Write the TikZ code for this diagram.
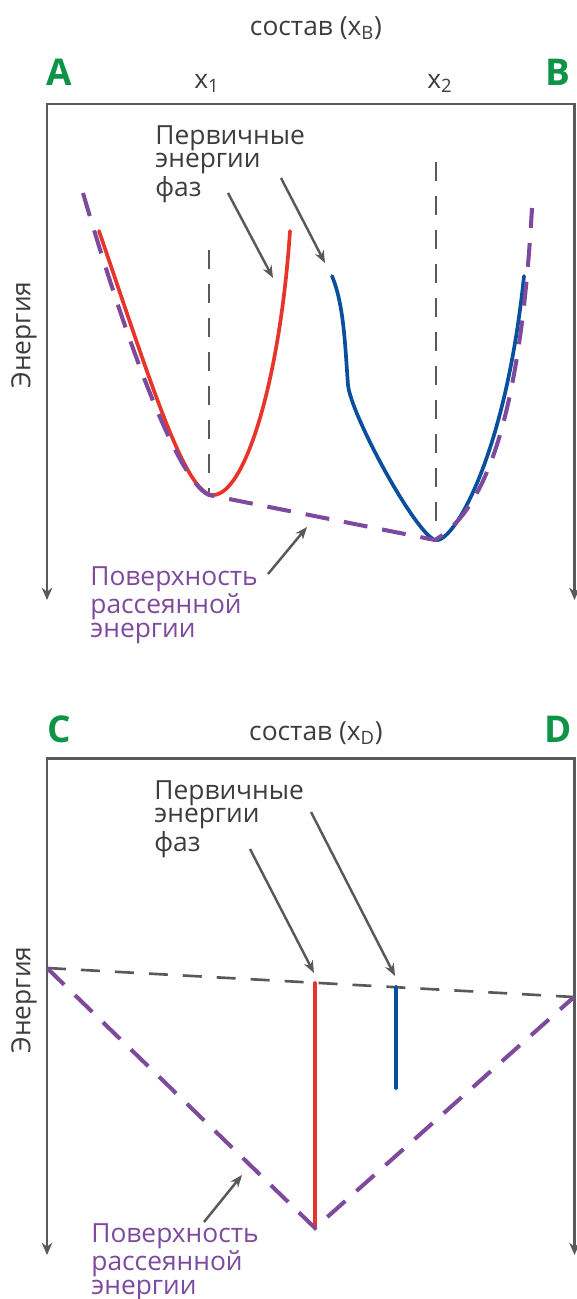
\documentclass[tikz,border=0pt]{standalone}
\usepackage{fontspec}
\setmainfont{Open Sans}
\usetikzlibrary{arrows.meta}
\definecolor{ink}{HTML}{3D3D3D}
\definecolor{rule}{HTML}{595959}
\definecolor{phasered}{HTML}{E8352B}
\definecolor{phaseblue}{HTML}{0A4F9E}
\definecolor{hull}{HTML}{7E4A9E}
\definecolor{corner}{HTML}{0E9447}

\begin{document}
\begin{tikzpicture}[x=0.02cm,y=-0.02cm,
  lbl/.style={font=\fontsize{15}{13.4}\selectfont,text=ink,align=left,inner sep=0pt},
  hulllbl/.style={lbl,text=hull},
  endlbl/.style={font=\fontsize{21}{21}\bfseries\selectfont,text=corner,inner sep=0pt},
  frame/.style={rule,line width=1.7pt,{Stealth[length=7pt,width=6pt]}-{Stealth[length=7pt,width=6pt]}},
  guide/.style={rule,line width=1.5pt,dash pattern=on 0.38cm off 0.3cm},
  hullline/.style={hull,line width=2.3pt,dash pattern=on 0.48cm off 0.3cm},
  phase/.style={line width=2.1pt,line cap=round},
  pointer/.style={rule,line width=1.4pt,-{Stealth[length=7pt,width=5.5pt]}}]
  \useasboundingbox (0,0) rectangle (576,1299);

  % Top panel: frame and labels
  \draw[frame] (47,600) -- (47,104) -- (574.5,104) -- (574.5,600);
  \node[lbl,anchor=base] (compB) at (316,35) {состав (x\textsubscript{B})};
  \node[endlbl,anchor=base] (endA) at (59,85) {A};
  \node[endlbl,anchor=base] (endB) at (558,85) {B};
  \node[lbl,anchor=base] (xone) at (207,88) {x\textsubscript{1}};
  \node[lbl,anchor=base] (xtwo) at (440,88) {x\textsubscript{2}};
  \node[lbl,rotate=90] (energyT) at (24,335) {Энергия};

  % Guides at x1 and x2
  \draw[guide] (209,250) -- (209,492);
  \draw[guide] (436,162) -- (436,522);

  % Phase curves
  \draw[phase,phasered] (99,231) .. controls (150,380) and (185,495) .. (213,495)
    .. controls (245,495) and (280,380) .. (290,231);
  \draw[phase,phaseblue] (332,276) .. controls (344,305) and (345,345) .. (348,385)
    .. controls (351,415) and (415,533) .. (435,540)
    .. controls (452,545) and (505,460) .. (524,276);

  % Dissipated energy surface
  \draw[hullline] (83,193) .. controls (120,320) and (175,480) .. (209,495) -- (435,540)
    .. controls (485,510) and (520,420) .. (532,208);

  % Callouts
  \node[lbl,anchor=base west] (primT) at (155,196) {Первичные\\энергии\\фаз};
  \node[hulllbl,anchor=base west] (surfT) at (90,637) {Поверхность\\рассеянной\\энергии};
  \coordinate (pA) at (228,193);
  \coordinate (redtip) at (273,278);
  \coordinate (pB) at (281,178);
  \coordinate (bluetip) at (325,263);
  \coordinate (sA) at (268,574);
  \coordinate (hulltip) at (307,527);
  \draw[pointer] (pA) -- (redtip);
  \draw[pointer] (pB) -- (bluetip);
  \draw[pointer] (sA) -- (hulltip);

  % Bottom panel: frame and labels
  \draw[frame] (47,1255) -- (47,758) -- (574.5,758) -- (574.5,1255);
  \node[lbl,anchor=base] (compD) at (316,740) {состав (x\textsubscript{D})};
  \node[endlbl,anchor=base] (endC) at (59,742) {C};
  \node[endlbl,anchor=base] (endD) at (558,742) {D};
  \node[lbl,rotate=90] (energyB) at (24,1000) {Энергия};

  % Common tangent and phase lines
  \coordinate (tl) at (47,968);
  \coordinate (tr) at (574,997);
  \coordinate (vmin) at (315,1228);
  \draw[guide] (tl) -- (tr);
  \draw[phase,phasered] (315,983) -- (vmin);
  \draw[phase,phaseblue] (396,987) -- (396,1088);
  \draw[hullline] (tl) -- (vmin) -- (tr);

  % Callouts
  \node[lbl,anchor=base west] (primB) at (154,851) {Первичные\\энергии\\фаз};
  \node[hulllbl,anchor=base west] (surfB) at (91,1294) {Поверхность\\рассеянной\\энергии};
  \coordinate (qA) at (250,849);
  \coordinate (redtop) at (314,973);
  \coordinate (qB) at (311,812);
  \coordinate (bluetop) at (395,976);
  \coordinate (rA) at (204,1222);
  \coordinate (vtip) at (242,1175);
  \draw[pointer] (qA) -- (redtop);
  \draw[pointer] (qB) -- (bluetop);
  \draw[pointer] (rA) -- (vtip);
\end{tikzpicture}
\end{document}
